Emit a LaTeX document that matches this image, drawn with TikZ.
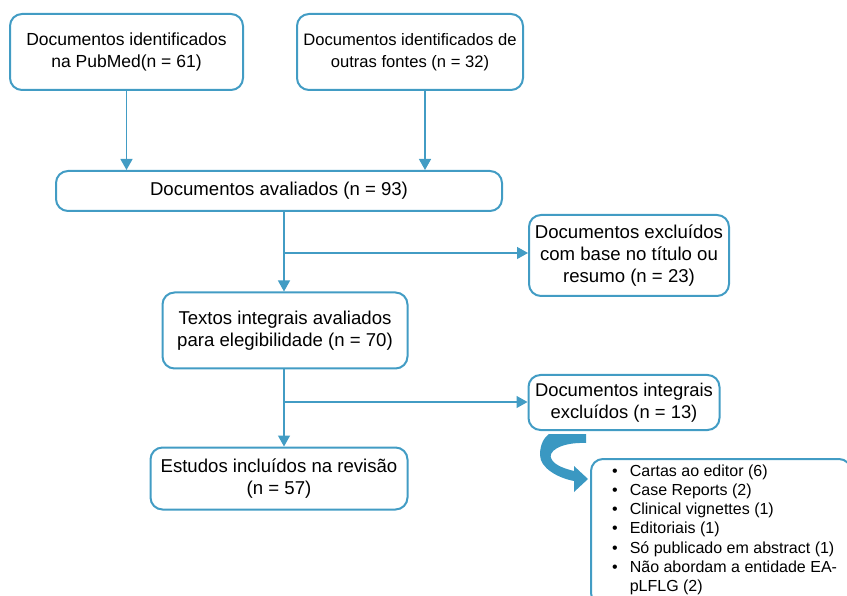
\documentclass[tikz,border=0pt]{standalone}
\usepackage{fontspec}
\setmainfont{Liberation Sans}
\usetikzlibrary{arrows.meta,calc}
\definecolor{bl}{RGB}{66,156,196}
\definecolor{bla}{RGB}{58,152,194}
\tikzset{
  box/.style={draw=bl, line width=2pt, rounded corners=12pt, align=center,
    inner sep=0pt, font=\fontsize{18.6}{22}\selectfont},
  conn/.style={draw=bl, line width=1.3pt},
  arr/.style={conn, -{Triangle[length=11pt,width=12pt]}},
}
\begin{document}
\begin{tikzpicture}[x=1pt,y=-1pt]
\useasboundingbox (0,0) rectangle (847,596);
\clip (0,0) rectangle (847,596);
\node[box, minimum width=233, minimum height=76, font=\fontsize{17.5}{22}\selectfont] (b1) at (126.5,52)
  {Documentos identificados\\na PubMed(n = 61)};
\node[box, minimum width=226, minimum height=76, font=\fontsize{16.6}{22.5}\selectfont] (b2) at (410,52)
  {Documentos identificados de\\outras fontes (n = 32)};
\node[box, minimum width=446, minimum height=40] (b3) at (279,191)
  {Documentos avaliados (n = 93)};
\node[box, minimum width=245, minimum height=76] (b4) at (285,330.5)
  {Textos integrais avaliados\\para elegibilidade (n = 70)};
\node[box, minimum width=257, minimum height=62] (b5) at (279,478.5)
  {Estudos incluídos na revisão\\(n = 57)};
\node[box, minimum width=200, minimum height=81] (b6) at (629,255.5)
  {Documentos excluídos\\com base no título ou\\resumo (n = 23)};
\node[box, minimum width=191, minimum height=55, font=\fontsize{18.4}{22}\selectfont] (b7) at (624,402.5)
  {Documentos integrais\\excluídos (n = 13)};
\node[box, minimum width=260, minimum height=146, anchor=north west] (b8) at (590,458) {};
\node[anchor=base west, inner sep=0pt, font=\fontsize{16}{19.3}\selectfont] (list) at (612,476)
  {\begin{tabular}[t]{@{}l@{\hspace{12pt}}l@{}}
   • & Cartas ao editor (6)\\
   • & Case Reports (2)\\
   • & Clinical vignettes (1)\\
   • & Editoriais (1)\\
   • & Só publicado em abstract (1)\\
   • & Não abordam a entidade EA-\\
     & pLFLG (2)
  \end{tabular}};
\coordinate (a2) at (425,0);
\coordinate (v) at (284,0);
\coordinate (j1) at (284,253);
\coordinate (j2) at (284,402);
\draw[arr] (b1.south) -- (b1.south |- b3.north);
\draw[arr] (b2.south -| a2) -- (b3.north -| a2);
\draw[arr] (b3.south -| v) -- (b4.north -| v);
\draw[arr] (j1) -- (j1 -| b6.west);
\draw[arr] (b4.south -| v) -- (b5.north -| v);
\draw[arr] (j2) -- (j2 -| b7.west);
% curved block arrow
\fill[bla] (549,434) -- (586,434) -- (586,443)
  .. controls (560,442) and (546,452) .. (552,460)
  .. controls (556,466) and (566,469) .. (574,471)
  -- (574,466) -- (588,479) -- (574,492) -- (574,481)
  .. controls (558,478) and (540,468) .. (540,455)
  .. controls (540,443) and (545,437) .. (549,434) -- cycle;
\end{tikzpicture}
\end{document}
